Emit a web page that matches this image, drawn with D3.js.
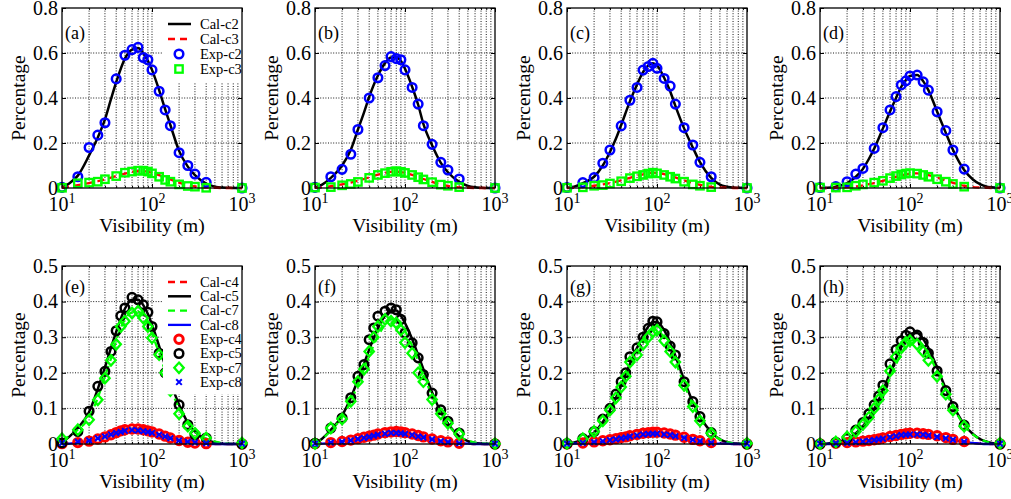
<!DOCTYPE html>
<html>
<head>
<meta charset="utf-8">
<script src="https://cdn.jsdelivr.net/npm/d3@7"></script>
<style>
  body { margin: 0; background: #fff; }
  text { font-family: "Liberation Serif", "Times New Roman", serif; fill: #000; }
</style>
</head>
<body>
<div id="chart"></div>
<script>
// x positions of the calculated curves and of the measured points
const calX = [10, 12, 15, 20, 25, 30, 35, 40, 50, 60, 70, 80, 90, 100, 120, 140, 160, 200, 250, 300, 400, 500, 600, 700, 800, 1000];
const topX = [10, 15, 20, 25, 30, 40, 50, 60, 70, 80, 90, 100, 120, 140, 160, 200, 250, 300, 400, 1000];
const botX = [10, 15, 20, 25, 30, 35, 40, 45, 50, 60, 70, 80, 90, 100, 120, 140, 160, 200, 250, 300, 400, 1000];

// (a)
const calA_c2 = [0.002, 0.02, 0.055, 0.145, 0.225, 0.305, 0.395, 0.47, 0.575, 0.615, 0.622, 0.6, 0.565, 0.525, 0.435, 0.35, 0.28, 0.165, 0.095, 0.057, 0.02, 0.006, 0.002, 0.001, 0, 0];
const calA_c3 = [0.001, 0.006, 0.013, 0.022, 0.03, 0.038, 0.046, 0.053, 0.064, 0.071, 0.075, 0.075, 0.072, 0.067, 0.057, 0.047, 0.038, 0.024, 0.013, 0.007, 0.002, 0.001, 0, 0, 0, 0];
const expA_c2 = [0.003, 0.05, 0.18, 0.235, 0.29, 0.485, 0.59, 0.615, 0.625, 0.58, 0.57, 0.525, 0.43, 0.347, 0.277, 0.157, 0.1, 0.062, 0.025, 0];
const expA_c3 = [0.001, 0.021, 0.024, 0.028, 0.039, 0.053, 0.068, 0.073, 0.077, 0.077, 0.073, 0.065, 0.05, 0.036, 0.028, 0.016, 0.009, 0.006, 0.001, 0];
// (b)
const calB_c2 = [0.002, 0.015, 0.045, 0.1, 0.17, 0.26, 0.335, 0.405, 0.5, 0.555, 0.58, 0.58, 0.565, 0.53, 0.45, 0.37, 0.285, 0.19, 0.112, 0.07, 0.027, 0.009, 0.003, 0.001, 0, 0];
const calB_c3 = [0.001, 0.003, 0.008, 0.016, 0.024, 0.032, 0.04, 0.047, 0.059, 0.067, 0.072, 0.073, 0.071, 0.067, 0.058, 0.049, 0.04, 0.027, 0.015, 0.009, 0.003, 0.001, 0, 0, 0, 0];
const expB_c2 = [0.003, 0.05, 0.083, 0.15, 0.26, 0.4, 0.49, 0.544, 0.584, 0.575, 0.57, 0.525, 0.447, 0.373, 0.277, 0.194, 0.114, 0.08, 0.04, 0];
const expB_c3 = [0.002, 0.004, 0.012, 0.018, 0.027, 0.045, 0.058, 0.066, 0.072, 0.075, 0.072, 0.067, 0.058, 0.048, 0.038, 0.026, 0.015, 0.01, 0.004, 0];
// (c)
const calC_c2 = [0.001, 0.006, 0.022, 0.05, 0.1, 0.16, 0.22, 0.28, 0.385, 0.46, 0.515, 0.545, 0.555, 0.545, 0.49, 0.43, 0.365, 0.265, 0.18, 0.115, 0.045, 0.015, 0.006, 0.002, 0.001, 0];
const calC_c3 = [0, 0.001, 0.004, 0.01, 0.016, 0.022, 0.028, 0.034, 0.045, 0.054, 0.061, 0.066, 0.068, 0.067, 0.062, 0.055, 0.047, 0.034, 0.022, 0.014, 0.005, 0.002, 0.001, 0, 0, 0];
const expC_c2 = [0.002, 0.024, 0.046, 0.11, 0.169, 0.276, 0.39, 0.447, 0.524, 0.54, 0.554, 0.532, 0.487, 0.453, 0.373, 0.268, 0.191, 0.114, 0.05, 0];
const expC_c3 = [0.001, 0.003, 0.01, 0.013, 0.02, 0.03, 0.044, 0.052, 0.058, 0.064, 0.068, 0.065, 0.058, 0.05, 0.042, 0.028, 0.016, 0.01, 0.004, 0];
// (d)
const calD_c2 = [0, 0.001, 0.006, 0.022, 0.05, 0.085, 0.13, 0.175, 0.265, 0.34, 0.4, 0.45, 0.48, 0.498, 0.502, 0.475, 0.435, 0.34, 0.245, 0.17, 0.08, 0.038, 0.017, 0.007, 0.003, 0];
const calD_c3 = [0, 0, 0.001, 0.003, 0.007, 0.012, 0.017, 0.022, 0.032, 0.041, 0.049, 0.055, 0.06, 0.063, 0.065, 0.062, 0.057, 0.046, 0.033, 0.023, 0.01, 0.004, 0.002, 0.001, 0, 0];
const expD_c2 = [0.002, 0.006, 0.028, 0.062, 0.087, 0.176, 0.268, 0.347, 0.406, 0.458, 0.476, 0.498, 0.502, 0.472, 0.435, 0.339, 0.255, 0.169, 0.084, 0];
const expD_c3 = [0.002, 0.002, 0.003, 0.01, 0.016, 0.024, 0.032, 0.044, 0.053, 0.06, 0.064, 0.066, 0.064, 0.058, 0.05, 0.039, 0.028, 0.018, 0.006, 0];
// (e)
const calE_c4 = [0, 0.001, 0.004, 0.009, 0.015, 0.021, 0.027, 0.032, 0.038, 0.041, 0.041, 0.039, 0.037, 0.034, 0.028, 0.022, 0.017, 0.011, 0.006, 0.003, 0.001, 0, 0, 0, 0, 0];
const calE_c5 = [0.005, 0.02, 0.045, 0.09, 0.155, 0.215, 0.27, 0.315, 0.38, 0.405, 0.405, 0.39, 0.365, 0.335, 0.275, 0.22, 0.175, 0.11, 0.06, 0.035, 0.012, 0.004, 0.001, 0, 0, 0];
const calE_c7 = [0.012, 0.022, 0.04, 0.075, 0.13, 0.19, 0.24, 0.29, 0.35, 0.37, 0.372, 0.36, 0.34, 0.31, 0.255, 0.205, 0.16, 0.1, 0.058, 0.035, 0.015, 0.007, 0.003, 0.001, 0, 0];
const calE_c8 = [0, 0.001, 0.004, 0.008, 0.014, 0.02, 0.025, 0.03, 0.035, 0.038, 0.038, 0.036, 0.034, 0.031, 0.026, 0.021, 0.016, 0.01, 0.005, 0.003, 0.001, 0, 0, 0, 0, 0];
const expE_c4 = [0.001, 0.004, 0.008, 0.014, 0.02, 0.026, 0.032, 0.037, 0.04, 0.042, 0.042, 0.04, 0.037, 0.034, 0.028, 0.022, 0.017, 0.01, 0.005, 0.003, 0.001, 0];
const expE_c5 = [0.003, 0.035, 0.092, 0.162, 0.204, 0.26, 0.318, 0.36, 0.382, 0.412, 0.405, 0.391, 0.37, 0.33, 0.255, 0.2, 0.16, 0.11, 0.054, 0.026, 0.017, 0];
const expE_c7 = [0.015, 0.04, 0.068, 0.124, 0.185, 0.235, 0.28, 0.33, 0.345, 0.368, 0.373, 0.354, 0.33, 0.298, 0.251, 0.2, 0.15, 0.085, 0.05, 0.03, 0.017, 0.003];
const expE_c8 = [0.003, 0.006, 0.01, 0.016, 0.021, 0.027, 0.031, 0.034, 0.037, 0.039, 0.038, 0.036, 0.034, 0.031, 0.026, 0.021, 0.016, 0.01, 0.006, 0.004, 0.002, 0.001];
// (f)
const calF_c4 = [0, 0.002, 0.004, 0.008, 0.012, 0.016, 0.019, 0.022, 0.027, 0.031, 0.033, 0.034, 0.034, 0.032, 0.029, 0.025, 0.021, 0.015, 0.009, 0.006, 0.002, 0.001, 0, 0, 0, 0];
const calF_c5 = [0.002, 0.015, 0.04, 0.08, 0.13, 0.18, 0.225, 0.265, 0.325, 0.36, 0.375, 0.375, 0.36, 0.34, 0.295, 0.25, 0.21, 0.145, 0.09, 0.058, 0.022, 0.008, 0.003, 0.001, 0, 0];
const calF_c7 = [0.001, 0.014, 0.038, 0.075, 0.12, 0.168, 0.21, 0.247, 0.303, 0.335, 0.35, 0.35, 0.337, 0.318, 0.276, 0.234, 0.196, 0.135, 0.085, 0.055, 0.022, 0.009, 0.004, 0.002, 0.001, 0];
const calF_c8 = [0, 0.001, 0.003, 0.007, 0.011, 0.014, 0.017, 0.02, 0.024, 0.028, 0.03, 0.031, 0.031, 0.029, 0.026, 0.022, 0.019, 0.013, 0.008, 0.005, 0.002, 0.001, 0, 0, 0, 0];
const expF_c4 = [0.001, 0.004, 0.007, 0.011, 0.015, 0.019, 0.022, 0.025, 0.028, 0.032, 0.034, 0.035, 0.034, 0.032, 0.028, 0.024, 0.02, 0.014, 0.009, 0.006, 0.002, 0];
const expF_c5 = [0.002, 0.045, 0.073, 0.13, 0.19, 0.223, 0.293, 0.326, 0.359, 0.373, 0.382, 0.377, 0.35, 0.312, 0.284, 0.242, 0.195, 0.143, 0.096, 0.064, 0.031, 0];
const expF_c7 = [0.001, 0.045, 0.07, 0.12, 0.175, 0.21, 0.26, 0.3, 0.33, 0.35, 0.345, 0.34, 0.32, 0.285, 0.255, 0.2, 0.175, 0.125, 0.085, 0.058, 0.028, 0.001];
const expF_c8 = [0.001, 0.004, 0.006, 0.01, 0.014, 0.017, 0.02, 0.023, 0.026, 0.029, 0.031, 0.031, 0.03, 0.028, 0.025, 0.021, 0.018, 0.013, 0.008, 0.005, 0.002, 0.001];
// (g)
const calG_c4 = [0, 0.001, 0.002, 0.005, 0.008, 0.011, 0.014, 0.017, 0.021, 0.025, 0.028, 0.031, 0.032, 0.033, 0.032, 0.029, 0.026, 0.02, 0.014, 0.009, 0.004, 0.002, 0.001, 0, 0, 0];
const calG_c5 = [0.001, 0.004, 0.012, 0.032, 0.062, 0.095, 0.13, 0.165, 0.225, 0.27, 0.305, 0.33, 0.343, 0.343, 0.32, 0.285, 0.248, 0.18, 0.118, 0.078, 0.033, 0.013, 0.005, 0.002, 0.001, 0];
const calG_c7 = [0.001, 0.004, 0.012, 0.03, 0.058, 0.088, 0.121, 0.153, 0.209, 0.251, 0.284, 0.307, 0.319, 0.319, 0.298, 0.265, 0.231, 0.168, 0.11, 0.073, 0.031, 0.013, 0.005, 0.002, 0.001, 0];
const calG_c8 = [0, 0.001, 0.002, 0.004, 0.007, 0.01, 0.013, 0.015, 0.019, 0.022, 0.025, 0.027, 0.028, 0.029, 0.028, 0.026, 0.023, 0.018, 0.012, 0.008, 0.003, 0.001, 0.001, 0, 0, 0];
const expG_c4 = [0, 0.003, 0.006, 0.009, 0.012, 0.015, 0.018, 0.02, 0.023, 0.027, 0.03, 0.032, 0.033, 0.033, 0.031, 0.028, 0.025, 0.019, 0.013, 0.009, 0.004, 0];
const expG_c5 = [0.001, 0.015, 0.035, 0.07, 0.1, 0.14, 0.175, 0.2, 0.245, 0.27, 0.3, 0.325, 0.345, 0.343, 0.31, 0.275, 0.25, 0.175, 0.119, 0.077, 0.032, 0];
const expG_c7 = [0.002, 0.015, 0.035, 0.065, 0.095, 0.13, 0.16, 0.19, 0.23, 0.25, 0.28, 0.3, 0.315, 0.32, 0.29, 0.26, 0.23, 0.165, 0.105, 0.065, 0.03, 0.002];
const expG_c8 = [0.001, 0.003, 0.005, 0.008, 0.011, 0.013, 0.016, 0.018, 0.021, 0.024, 0.027, 0.028, 0.029, 0.029, 0.027, 0.025, 0.022, 0.017, 0.012, 0.008, 0.003, 0.001];
// (h)
const calH_c4 = [0, 0, 0.001, 0.003, 0.005, 0.007, 0.009, 0.011, 0.015, 0.019, 0.022, 0.025, 0.027, 0.029, 0.03, 0.029, 0.027, 0.023, 0.017, 0.012, 0.006, 0.003, 0.001, 0.001, 0, 0];
const calH_c5 = [0, 0.001, 0.004, 0.014, 0.03, 0.05, 0.073, 0.098, 0.15, 0.2, 0.24, 0.272, 0.295, 0.31, 0.312, 0.295, 0.27, 0.215, 0.155, 0.11, 0.055, 0.028, 0.014, 0.007, 0.003, 0];
const calH_c7 = [0, 0.001, 0.004, 0.013, 0.028, 0.047, 0.068, 0.091, 0.14, 0.186, 0.224, 0.254, 0.276, 0.29, 0.292, 0.277, 0.254, 0.203, 0.147, 0.105, 0.053, 0.027, 0.014, 0.007, 0.003, 0];
const calH_c8 = [0, 0, 0.001, 0.002, 0.004, 0.006, 0.008, 0.01, 0.013, 0.017, 0.02, 0.022, 0.024, 0.026, 0.027, 0.026, 0.024, 0.021, 0.016, 0.011, 0.005, 0.003, 0.001, 0, 0, 0];
const expH_c4 = [0, 0.002, 0.004, 0.006, 0.008, 0.01, 0.012, 0.014, 0.017, 0.021, 0.024, 0.027, 0.029, 0.03, 0.03, 0.029, 0.027, 0.023, 0.018, 0.013, 0.007, 0];
const expH_c5 = [0, 0.005, 0.016, 0.039, 0.06, 0.085, 0.11, 0.135, 0.165, 0.225, 0.265, 0.29, 0.305, 0.315, 0.306, 0.285, 0.255, 0.205, 0.15, 0.105, 0.053, 0];
const expH_c7 = [0.001, 0.006, 0.02, 0.035, 0.055, 0.075, 0.1, 0.125, 0.15, 0.205, 0.245, 0.27, 0.285, 0.29, 0.28, 0.26, 0.235, 0.19, 0.14, 0.095, 0.05, 0.002];
const expH_c8 = [0.001, 0.002, 0.003, 0.005, 0.007, 0.009, 0.011, 0.013, 0.015, 0.019, 0.022, 0.025, 0.026, 0.027, 0.027, 0.026, 0.024, 0.02, 0.016, 0.012, 0.006, 0.001];

const yTicksTop = [0, 0.2, 0.4, 0.6, 0.8];
const yTicksBot = [0, 0.1, 0.2, 0.3, 0.4, 0.5];
const xMajor = [10, 100, 1000];
const xMinor = [20, 30, 40, 50, 60, 70, 80, 90, 200, 300, 400, 500, 600, 700, 800, 900];

// series styles
const topCalStyle = [
  { name: "Cal-c2", color: "#000", dash: null, width: 2.5 },
  { name: "Cal-c3", color: "#f00", dash: "7,5", width: 2.3 },
];
const topExpStyle = [
  { name: "Exp-c2", color: "#00f", shape: "circle" },
  { name: "Exp-c3", color: "#0f0", shape: "square" },
];
const botCalStyle = [
  { name: "Cal-c4", color: "#f00", dash: "7,5", width: 2.3 },
  { name: "Cal-c5", color: "#000", dash: null, width: 2.5 },
  { name: "Cal-c7", color: "#0f0", dash: "7,5", width: 2.3 },
  { name: "Cal-c8", color: "#00f", dash: null, width: 2.3 },
];
const botExpStyle = [
  { name: "Exp-c4", color: "#f00", shape: "circleBig" },
  { name: "Exp-c5", color: "#000", shape: "circle" },
  { name: "Exp-c7", color: "#0f0", shape: "diamond" },
  { name: "Exp-c8", color: "#00f", shape: "cross" },
];

const panels = [
  { label: "(a)", row: 0, col: 0, cal: [calA_c2, calA_c3], exp: [expA_c2, expA_c3], legend: true },
  { label: "(b)", row: 0, col: 1, cal: [calB_c2, calB_c3], exp: [expB_c2, expB_c3] },
  { label: "(c)", row: 0, col: 2, cal: [calC_c2, calC_c3], exp: [expC_c2, expC_c3] },
  { label: "(d)", row: 0, col: 3, cal: [calD_c2, calD_c3], exp: [expD_c2, expD_c3] },
  { label: "(e)", row: 1, col: 0, cal: [calE_c4, calE_c5, calE_c7, calE_c8], exp: [expE_c4, expE_c5, expE_c7, expE_c8], legend: true },
  { label: "(f)", row: 1, col: 1, cal: [calF_c4, calF_c5, calF_c7, calF_c8], exp: [expF_c4, expF_c5, expF_c7, expF_c8] },
  { label: "(g)", row: 1, col: 2, cal: [calG_c4, calG_c5, calG_c7, calG_c8], exp: [expG_c4, expG_c5, expG_c7, expG_c8] },
  { label: "(h)", row: 1, col: 3, cal: [calH_c4, calH_c5, calH_c7, calH_c8], exp: [expH_c4, expH_c5, expH_c7, expH_c8] },
];

// layout
const width = 1011, height = 499;
const colLeft = [62, 315, 567, 820];
const plotW = 180;
const rowTop = [8, 266];
const rowH = [180, 178];

const svg = d3.select("#chart").append("svg")
  .attr("width", width).attr("height", height);

// draws one marker centred at 0,0 inside g
function drawMarker(g, shape, color) {
  if (shape === "circle") {
    g.append("circle").attr("r", 4.3).attr("fill", "none")
      .attr("stroke", color).attr("stroke-width", 2.5);
  } else if (shape === "circleBig") {
    g.append("circle").attr("r", 4.2).attr("fill", "none")
      .attr("stroke", color).attr("stroke-width", 3);
  } else if (shape === "square") {
    g.append("rect").attr("x", -3.7).attr("y", -3.7).attr("width", 7.4).attr("height", 7.4)
      .attr("fill", "none").attr("stroke", color).attr("stroke-width", 2.3);
  } else if (shape === "diamond") {
    g.append("path").attr("d", "M0,-5.2L4.7,0L0,5.2L-4.7,0Z").attr("fill", "none")
      .attr("stroke", color).attr("stroke-width", 2.3);
  } else if (shape === "cross") {
    g.append("path").attr("d", "M-2.8,-2.8L2.8,2.8M2.8,-2.8L-2.8,2.8")
      .attr("stroke", color).attr("stroke-width", 2);
  }
}

panels.forEach((p) => {
  const left = colLeft[p.col];
  const top = rowTop[p.row];
  const h = rowH[p.row];
  const yTicks = p.row === 0 ? yTicksTop : yTicksBot;
  const calStyle = p.row === 0 ? topCalStyle : botCalStyle;
  const expStyle = p.row === 0 ? topExpStyle : botExpStyle;
  const expX = p.row === 0 ? topX : botX;

  const xScale = d3.scaleLog().domain([10, 1000]).range([0, plotW]);
  const yScale = d3.scaleLinear().domain([0, d3.max(yTicks)]).range([h, 0]);

  const g = svg.append("g").attr("transform", `translate(${left},${top})`);

  // grid (dotted)
  const grid = g.append("g").attr("stroke", "#000").attr("stroke-width", 0.9)
    .attr("stroke-dasharray", "1,1.6");
  grid.selectAll(".gx").data(xMinor.concat([100])).join("line")
    .attr("x1", (d) => xScale(d)).attr("x2", (d) => xScale(d))
    .attr("y1", 0).attr("y2", h);
  grid.selectAll(".gy").data(yTicks.slice(1, -1)).join("line")
    .attr("x1", 0).attr("x2", plotW)
    .attr("y1", (d) => yScale(d)).attr("y2", (d) => yScale(d));

  // inward ticks on all four sides
  const axes = g.append("g");
  axes.append("g").attr("transform", `translate(0,${h})`)
    .call(d3.axisBottom(xScale).tickValues(xMajor).tickSize(-4).tickFormat(""));
  axes.append("g").attr("transform", `translate(0,${h})`)
    .call(d3.axisBottom(xScale).tickValues(xMinor).tickSize(-2).tickFormat(""));
  axes.append("g")
    .call(d3.axisTop(xScale).tickValues(xMajor).tickSize(-4).tickFormat(""));
  axes.append("g")
    .call(d3.axisTop(xScale).tickValues(xMinor).tickSize(-2).tickFormat(""));
  axes.append("g")
    .call(d3.axisLeft(yScale).tickValues(yTicks).tickSize(-4).tickFormat(""));
  axes.append("g").attr("transform", `translate(${plotW},0)`)
    .call(d3.axisRight(yScale).tickValues(yTicks).tickSize(-4).tickFormat(""));
  axes.selectAll(".domain").remove();
  axes.selectAll(".tick line").attr("stroke", "#000");

  // calculated curves
  const line = d3.line()
    .x((d) => xScale(d[0]))
    .y((d) => yScale(d[1]))
    .curve(d3.curveMonotoneX);
  p.cal.forEach((vals, i) => {
    const s = calStyle[i];
    g.append("path")
      .datum(calX.map((xv, k) => [xv, vals[k]]))
      .attr("d", line)
      .attr("fill", "none")
      .attr("stroke", s.color)
      .attr("stroke-width", s.width)
      .attr("stroke-dasharray", s.dash);
  });

  // measured points
  p.exp.forEach((vals, i) => {
    const s = expStyle[i];
    expX.forEach((xv, k) => {
      const m = g.append("g")
        .attr("transform", `translate(${xScale(xv)},${yScale(vals[k])})`);
      drawMarker(m, s.shape, s.color);
    });
  });

  // legend
  if (p.legend) {
    const rows = calStyle.concat(expStyle);
    const rowGap = p.row === 0 ? 15 : 14.3;
    const lg = g.append("g").attr("transform", `translate(${plotW - 79},0)`);
    lg.append("rect").attr("x", 0).attr("y", 0).attr("width", 79)
      .attr("height", rows.length * rowGap + 14).attr("fill", "#fff");
    rows.forEach((s, i) => {
      const yy = 16 + i * rowGap;
      if (s.shape) {
        const m = lg.append("g").attr("transform", `translate(16,${yy})`);
        drawMarker(m, s.shape, s.color);
      } else {
        lg.append("line").attr("x1", 5).attr("x2", 28).attr("y1", yy).attr("y2", yy)
          .attr("stroke", s.color).attr("stroke-width", s.width)
          .attr("stroke-dasharray", s.dash);
      }
      lg.append("text").attr("x", 37).attr("y", yy).attr("dy", "0.33em")
        .attr("font-size", 14.5).text(s.name);
    });
  }

  // box
  g.append("rect").attr("width", plotW).attr("height", h)
    .attr("fill", "none").attr("stroke", "#000").attr("stroke-width", 1.3);

  // panel label
  g.append("text").attr("x", 3).attr("y", p.row === 0 ? 31 : 27)
    .attr("font-size", 18).text(p.label);

  // y tick labels
  g.selectAll(".ylab").data(yTicks).join("text")
    .attr("x", -4).attr("y", (d) => yScale(d)).attr("dy", "0.34em")
    .attr("text-anchor", "end").attr("font-size", 20)
    .text((d) => (d === 0 ? "0" : d3.format(".1f")(d)));

  // x tick labels 10^n
  xMajor.forEach((v) => {
    const t = g.append("text").attr("x", xScale(v)).attr("y", h + 23)
      .attr("text-anchor", "middle").attr("font-size", 20);
    t.append("tspan").text("10");
    t.append("tspan").attr("dy", -8).attr("font-size", 14).text(Math.round(Math.log10(v)));
  });

  // axis titles
  g.append("text").attr("x", plotW / 2).attr("y", h + 44)
    .attr("text-anchor", "middle").attr("font-size", 19.5).text("Visibility (m)");
  g.append("text")
    .attr("transform", `translate(-37,${h / 2}) rotate(-90)`)
    .attr("text-anchor", "middle").attr("font-size", 19.5).text("Percentage");
});
</script>
</body>
</html>
